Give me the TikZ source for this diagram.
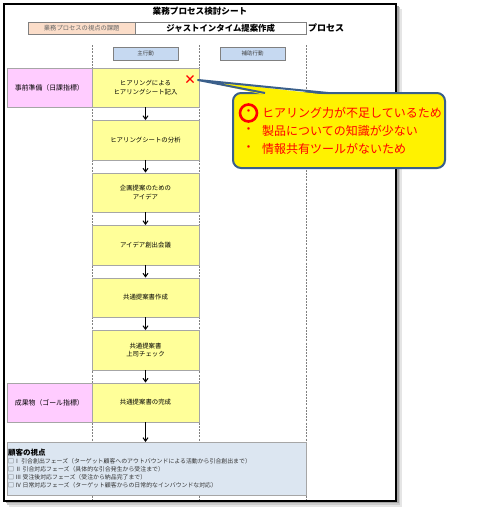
\documentclass[tikz,border=0pt]{standalone}
\usepackage{fontspec}
\setmainfont{Noto Sans CJK JP}
\usetikzlibrary{arrows.meta}
\definecolor{pinkbox}{HTML}{FFCCFF}
\definecolor{yelbox}{HTML}{FFFF99}
\definecolor{peach}{HTML}{FBDDC9}
\definecolor{hdrblue}{HTML}{C6D9F1}
\definecolor{botblue}{HTML}{DCE6F1}
\definecolor{callborder}{HTML}{3A5F8B}
\definecolor{boxline}{HTML}{A6A6A6}
\begin{document}
\begin{tikzpicture}[x=1pt,y=-1pt,
  small/.style={font=\fontsize{6.4}{8.4}\selectfont},
  ybox/.style={draw=boxline, fill=yelbox, minimum width=107pt, minimum height=39.5pt, inner sep=1pt, align=center, small},
  pbox/.style={draw=boxline, fill=pinkbox, minimum width=85.3pt, minimum height=39.5pt, inner sep=1pt, align=center, font=\fontsize{6.9}{8}\selectfont},
  hbox/.style={draw=gray, fill=hdrblue, minimum width=65pt, minimum height=13pt, inner sep=0pt, font=\fontsize{5.5}{6}\selectfont, text=black!75},
  arr/.style={-{Straight Barb[length=3.5pt,width=5pt]}, line width=1pt},
  lane/.style={draw=gray, dash pattern=on 2pt off 1.2pt, line width=0.6pt},
  ctext/.style={anchor=west, text=red, inner sep=0pt, font=\fontsize{12}{14}\selectfont},
  btext/.style={anchor=west, inner sep=0pt, font=\fontsize{5.9}{6.5}\selectfont, text=black!80}
]
\useasboundingbox (0,0) rectangle (500,507);
% frame with shadow
\fill[black!10] (9,9) rectangle (402,507);
\fill[black!20] (7,7) rectangle (400,505);
\fill[black!35] (5.5,5.5) rectangle (398.5,503);
\draw[line width=1.4pt, fill=white] (4,4) rectangle (396,501);
% header
\node[font=\bfseries\fontsize{8.6}{10}\selectfont] (title) at (200,11) {業務プロセス検討シート};
\node[draw=gray, fill=peach, minimum width=107pt, minimum height=12pt, inner sep=0pt, anchor=north west, font=\fontsize{6.3}{7}\selectfont, text=black!60] (issue) at (28,22) {業務プロセスの視点の課題};
\node[draw=gray, minimum width=171pt, minimum height=12pt, inner sep=0pt, anchor=north west, font=\bfseries\fontsize{8.4}{9}\selectfont] (theme) at (135,22) {ジャストインタイム提案作成};
\node[anchor=west, inner sep=1.5pt, font=\bfseries\fontsize{9}{10}\selectfont] (proc) at (theme.east) {プロセス};
% lanes
\draw[lane] (92,45) -- (92,500);
\draw[lane] (199,45) -- (199,500);
\draw[lane] (306,45) -- (306,500);
\node[hbox] (main) at (145.5,53.3) {主行動};
\node[hbox] (sub) at (252.5,53.3) {補助行動};
% process boxes
\node[pbox] (p1) at (49.35,87.5) {事前準備（日課指標）};
\node[ybox] (b1) at (145.5,87.5) {ヒアリングによる\\ヒアリングシート記入};
\node[ybox] (b2) at (145.5,140) {ヒアリングシートの分析};
\node[ybox] (b3) at (145.5,192.5) {企画提案のための\\アイデア};
\node[ybox] (b4) at (145.5,245) {アイデア創出会議};
\node[ybox] (b5) at (145.5,297.5) {共通提案書作成};
\node[ybox] (b6) at (145.5,350) {共通提案書\\上司チェック};
\node[ybox] (b7) at (145.5,402.5) {共通提案書の完成};
\node[pbox] (p7) at (49.35,402.5) {成果物（ゴール指標）};
% bottom box
\node[draw=boxline, fill=botblue, minimum width=299pt, minimum height=53pt, inner sep=0pt, anchor=north west] (cv) at (7,442) {};
\node[anchor=west, inner sep=0pt, font=\bfseries\fontsize{7.5}{8}\selectfont] (cvt) at (8,452.5) {顧客の視点};
\node[btext] (l1) at (8,461.5) {□Ⅰ 引合創出フェーズ（ターゲット顧客へのアウトバウンドによる活動から引合創出まで）};
\node[btext] (l2) at (8,469.5) {□ Ⅱ 引合対応フェーズ（具体的な引合発生から受注まで）};
\node[btext] (l3) at (8,477.5) {□ Ⅲ 受注後対応フェーズ（受注から納品完了まで）};
\node[btext] (l4) at (8,485.5) {□ Ⅳ 日常対応フェーズ（ターゲット顧客からの日常的なインバウンドな対応）};
% arrows
\draw[arr] (b1.south) -- (b2.north);
\draw[arr] (b2.south) -- (b3.north);
\draw[arr] (b3.south) -- (b4.north);
\draw[arr] (b4.south) -- (b5.north);
\draw[arr] (b5.south) -- (b6.north);
\draw[arr] (b6.south) -- (b7.north);
\draw[arr] (b7.south) -- (b7.south |- cv.north);
% red cross
\coordinate (xm) at (190,79);
\draw[red, line width=1.3pt] ([shift={(-3.5,-3.5)}]xm) -- ([shift={(3.5,3.5)}]xm);
\draw[red, line width=1.3pt] ([shift={(-3.5,3.5)}]xm) -- ([shift={(3.5,-3.5)}]xm);
% callout
\coordinate (tip) at (198,80);
\draw[callborder, line width=2pt, fill=yellow, rounded corners=8pt] (233,93) rectangle (445,168);
\fill[yellow] (tip) -- (265,95) -- (328,95) -- cycle;
\draw[callborder, line width=2pt, line join=round] (265,93) -- (tip) -- (328,93);
\node[ctext, anchor=center] (d1) at (248.5,113) {・};
\node[ctext, anchor=center] (d2) at (248.5,131) {・};
\node[ctext, anchor=center] (d3) at (248.5,148.5) {・};
\node[ctext] (c1) at (262,113) {ヒアリング力が不足しているため};
\node[ctext] (c2) at (262,131) {製品についての知識が少ない};
\node[ctext] (c3) at (262,148.5) {情報共有ツールがないため};
\draw[red, line width=2.6pt] (248.5,113) circle (8.5);
\end{tikzpicture}
\end{document}
